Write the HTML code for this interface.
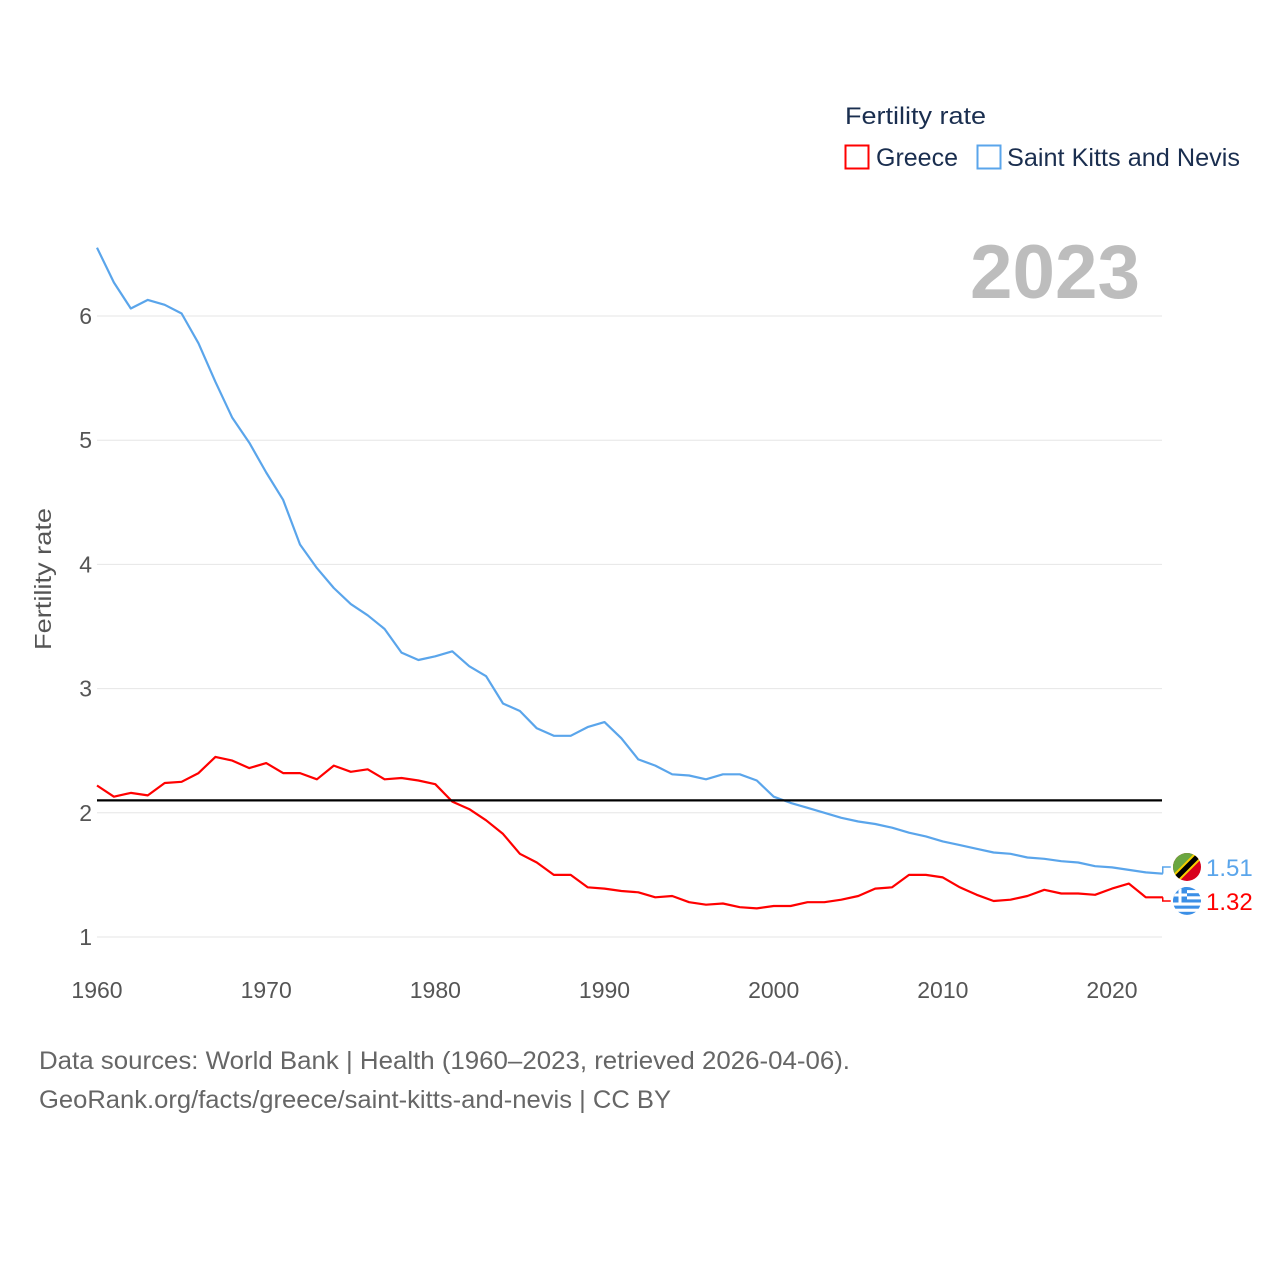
<!DOCTYPE html>
<html><head><meta charset="utf-8"><style>
html,body{margin:0;padding:0;background:#fff;}
svg{display:block;font-family:"Liberation Sans",sans-serif;}
</style></head><body>
<svg id="chart" width="1280" height="1280" viewBox="0 0 1280 1280">
<defs>
<clipPath id="clipGr"><circle cx="1187" cy="901" r="14"/></clipPath>
<clipPath id="clipSkn"><circle cx="1187" cy="867" r="14"/></clipPath>
</defs>
<g id="grid"></g>
<g id="yticks"></g>
<g id="xticks"></g>
<text x="51" y="579" transform="rotate(-90 51 579)" text-anchor="middle" font-size="23" fill="#555" textLength="142" lengthAdjust="spacingAndGlyphs">Fertility rate</text>
<text x="1140" y="298" text-anchor="end" font-size="76" font-weight="bold" fill="#bdbdbd" textLength="170" lengthAdjust="spacingAndGlyphs">2023</text>
<text x="845" y="124" font-size="24" fill="#1a2e4f" textLength="141" lengthAdjust="spacingAndGlyphs">Fertility rate</text>
<g>
<rect x="845.5" y="145.5" width="23" height="23" fill="none" stroke="#ff0000" stroke-width="2"/>
<text x="876" y="166" font-size="25" fill="#1a2e4f">Greece</text>
</g>
<g>
<rect x="977.5" y="145.5" width="23" height="23" fill="none" stroke="#5aa5eb" stroke-width="2"/>
<text x="1007" y="166" font-size="25" fill="#1a2e4f" textLength="233" lengthAdjust="spacingAndGlyphs">Saint Kitts and Nevis</text>
</g>
<g id="series"></g>
<text x="39" y="1069" font-size="25" fill="#666" textLength="811" lengthAdjust="spacingAndGlyphs">Data sources: World Bank | Health (1960–2023, retrieved 2026-04-06).</text>
<text x="39" y="1108" font-size="25" fill="#666" textLength="632" lengthAdjust="spacingAndGlyphs">GeoRank.org/facts/greece/saint-kitts-and-nevis | CC BY</text>
</svg>
<script>
const years = [];
for (let y = 1960; y <= 2023; y++) years.push(y);
const greece = [2.22,2.13,2.16,2.14,2.24,2.25,2.32,2.45,2.42,2.36,2.40,2.32,2.32,2.27,2.38,2.33,2.35,2.27,2.28,2.26,2.23,2.09,2.03,1.94,1.83,1.67,1.60,1.50,1.50,1.40,1.39,1.37,1.36,1.32,1.33,1.28,1.26,1.27,1.24,1.23,1.25,1.25,1.28,1.28,1.30,1.33,1.39,1.40,1.50,1.50,1.48,1.40,1.34,1.29,1.30,1.33,1.38,1.35,1.35,1.34,1.39,1.43,1.32,1.32];
const skn = [6.55,6.27,6.06,6.13,6.09,6.02,5.78,5.47,5.18,4.98,4.74,4.52,4.16,3.97,3.81,3.68,3.59,3.48,3.29,3.23,3.26,3.30,3.18,3.10,2.88,2.82,2.68,2.62,2.62,2.69,2.73,2.60,2.43,2.38,2.31,2.30,2.27,2.31,2.31,2.26,2.13,2.08,2.04,2.00,1.96,1.93,1.91,1.88,1.84,1.81,1.77,1.74,1.71,1.68,1.67,1.64,1.63,1.61,1.60,1.57,1.56,1.54,1.52,1.51];
const yTicks = [1,2,3,4,5,6];
const xTicks = [1960,1970,1980,1990,2000,2010,2020];
const replacement = 2.1;

const X = yr => 97 + (yr - 1960) * (1112 - 97) / 60;
const Y = v => 937 - (v - 1) * 124.2;
const NS = "http://www.w3.org/2000/svg";
function mk(tag, attrs, parent){const e=document.createElementNS(NS,tag);for(const k in attrs)e.setAttribute(k,attrs[k]);parent.appendChild(e);return e;}
const grid=document.getElementById('grid'), yt=document.getElementById('yticks'), xt=document.getElementById('xticks'), ser=document.getElementById('series');
yTicks.forEach(v=>{
  const l=mk('line',{x1:97,x2:1162,y1:Y(v),y2:Y(v),stroke:'#e6e6e6','stroke-width':1},grid);
  
  
  const t=mk('text',{x:92,y:Y(v)+8,'text-anchor':'end','font-size':23,fill:'#555'},yt);
  t.textContent=v;
  
  
});
xTicks.forEach(v=>{
  const t=mk('text',{x:X(v),y:998,'text-anchor':'middle','font-size':23,fill:'#555'},xt);
  t.textContent=v;
  
  
});
function line(vals,color,name){
  const d=vals.map((v,i)=>(i?'L':'M')+X(years[i]).toFixed(1)+' '+Y(v).toFixed(1)).join(' ');
  const p=mk('path',{d:d,fill:'none',stroke:color,'stroke-width':2.2,'stroke-linejoin':'round'},ser);
  
  
}
line(skn,'#5aa5eb','skn-line');
line(greece,'#ff0000','greece-line');
const ref=mk('line',{x1:97,x2:1162,y1:Y(replacement),y2:Y(replacement),stroke:'#000','stroke-width':2.2},ser);


function endMark(vals,color,name,cy,flag){
  const v=vals[vals.length-1], x=X(years[years.length-1]);
  const c=mk('path',{d:`M${x} ${Y(v)} h-4 M${x} ${Y(v)} v${cy-Y(v)} h8`,fill:'none',stroke:color,'stroke-width':1.5},ser);
  
  
  const g=mk('g',{'clip-path':flag==='skn'?'url(#clipSkn)':'url(#clipGr)'},ser);
  
  
  const cx=1187;
  if(flag==='skn'){
    mk('rect',{x:cx-14,y:cy-14,width:28,height:28,fill:'#d8001c'},g);
    mk('path',{d:`M${cx-14} ${cy+14} L${cx-14} ${cy-14} L${cx+14} ${cy-14} Z`,fill:'#6aa640'},g);
    mk('line',{x1:cx-16,y1:cy+16,x2:cx+16,y2:cy-16,stroke:'#f6d000','stroke-width':9},g);
    mk('line',{x1:cx-16,y1:cy+16,x2:cx+16,y2:cy-16,stroke:'#000','stroke-width':5},g);
  }else{
    mk('rect',{x:cx-14,y:cy-14,width:28,height:28,fill:'#fff'},g);
    for(let i=0;i<5;i++){mk('rect',{x:cx-14,y:cy-14+i*6.2,width:28,height:3.1,fill:'#3b8fe6'},g);}
    mk('rect',{x:cx-14,y:cy-14,width:14,height:15.5,fill:'#3b8fe6'},g);
    mk('rect',{x:cx-14,y:cy-7.5,width:14,height:3,fill:'#fff'},g);
    mk('rect',{x:cx-8.5,y:cy-14,width:3,height:15.5,fill:'#fff'},g);
  }
  const t=mk('text',{x:1206,y:cy+9,'font-size':24,fill:color},ser);
  t.textContent=v.toFixed(2);
  
  
}
endMark(skn,'#5aa5eb','skn',867,'skn');
endMark(greece,'#ff0000','greece',901,'gr');
</script>
</body></html>
